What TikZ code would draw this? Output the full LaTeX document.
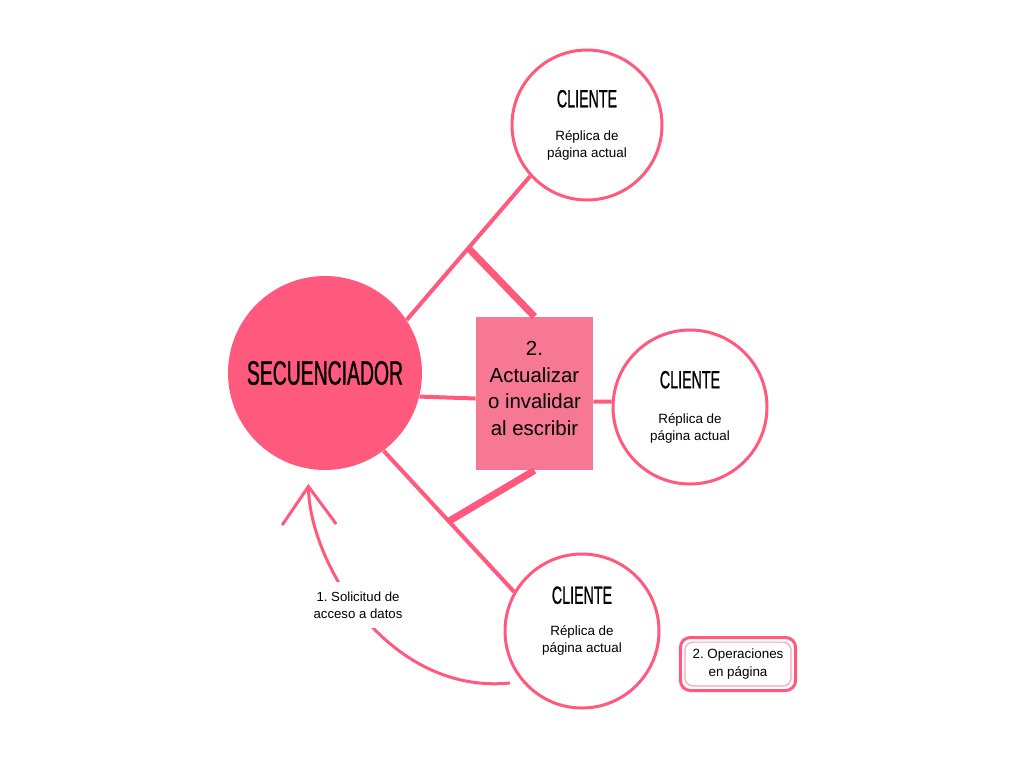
\documentclass[tikz,border=0pt]{standalone}
\usepackage{fontspec}
\usepackage{tikz}
\usetikzlibrary{arrows.meta}
\setmainfont{Liberation Sans}
\newfontfamily\titfont[FakeStretch=0.57,FakeBold=0.8]{Liberation Sans}
\definecolor{rosa}{HTML}{FF5A7D}
\definecolor{rosacaja}{HTML}{F77892}
\definecolor{rosaclaro}{HTML}{F9A3B6}
\frenchspacing

\begin{document}
\begin{tikzpicture}[x=0.5pt,y=-0.5pt,
		cliente/.style={circle,draw=rosa,line width=1.5pt,fill=white,minimum size=77pt,inner sep=0pt},
		clitexto/.style={align=center,inner sep=0pt,font=\fontsize{6.7}{8.5}\selectfont},
		enlace/.style={draw=rosa,line width=2pt},
		rama/.style={draw=rosa,line width=3.5pt},
		trazo/.style={draw=rosa,line width=1.5pt,shorten >=7.5pt,-{Straight Barb[length=19pt,width=27pt]}}]
	\useasboundingbox (0,0) rectangle (1024,768);
	\node[circle,fill=rosa,minimum size=97pt,inner sep=0pt,font=\titfont\fontsize{17}{17}\selectfont] (sec) at (325,373) {SECUENCIADOR};
	\node[fill=rosacaja,minimum width=58.5pt,minimum height=76.5pt,inner sep=0pt] (act) at (534.5,393.5) {};
	\node[align=center,inner sep=0pt,font=\fontsize{10.2}{13.3}\selectfont] (actt) at ([yshift=2.5pt]act) {2.\\Actualizar\\o invalidar\\al escribir};
	\node[cliente,minimum size=75pt] (cli1) at (587,125) {};
	\node[cliente] (cli2) at (690,407) {};
	\node[cliente] (cli3) at (582,631) {};
	\node[clitexto] (cli1t) at (cli1) {{\titfont\fontsize{12.5}{12.5}\selectfont CLIENTE}\\[8pt]Réplica de\\página actual};
	\node[clitexto] (cli2t) at (cli2) {{\titfont\fontsize{12.5}{12.5}\selectfont CLIENTE}\\[9pt]Réplica de\\página actual};
	\node[clitexto] (cli3t) at ([yshift=5pt]cli3) {{\titfont\fontsize{12.5}{12.5}\selectfont CLIENTE}\\[7.5pt]Réplica de\\página actual};
	\draw[enlace] (sec.33) -- coordinate (r1) (cli1.222);
	\draw[rama] (r1) -- (act.north);
	\draw[enlace] (sec.-14) -- ([yshift=-2.5pt]act.west);
	\draw[enlace] ([yshift=-4pt]act.east) -- (cli2.176);
	\draw[enlace] (sec.-53) -- coordinate (r2) (cli3.150);
	\draw[rama] (r2) -- (act.south);
	\coordinate (cola) at (510,683);
	\draw[trazo] (cola) .. controls (390,695) and (310,565) .. (sec.260);
	\node[fill=white,inner sep=5pt,align=center,font=\fontsize{6.6}{8.5}\selectfont] (sol) at (358,605) {1. Solicitud de\\acceso a datos};
	\node[draw=rosaclaro,line width=0.6pt,rounded corners=4pt,minimum width=53pt,minimum height=21pt,align=center,font=\fontsize{6.7}{9}\selectfont] (ops) at (738,664) {2. Operaciones\\en página};
	\draw[rosa,line width=1.5pt,rounded corners=5pt] ([shift={(-2pt,2pt)}]ops.north west) rectangle ([shift={(2pt,-2pt)}]ops.south east);
\end{tikzpicture}
\end{document}
